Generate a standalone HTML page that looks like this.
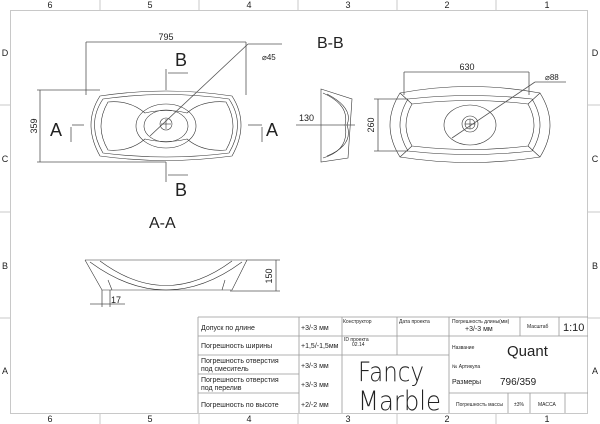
<!DOCTYPE html>
<html><head><meta charset="utf-8"><style>
html,body{margin:0;padding:0;background:#fff;}
svg{display:block;font-family:"Liberation Sans",sans-serif;}
.g{stroke:#c8c8c8;fill:none;stroke-width:1}
.l{stroke:#555;fill:none;stroke-width:0.8}
.t{stroke:#333;fill:none;stroke-width:0.6}
.tb{stroke:#999;fill:none;stroke-width:0.8}
text{fill:#222}
.s{font-size:7px;fill:#333}
</style></head><body>
<svg width="600" height="424" viewBox="0 0 600 424" xmlns="http://www.w3.org/2000/svg">
<rect x="10.5" y="10.5" width="577" height="403" class="g"/>
<g class="g">
<line x1="100" y1="0" x2="100" y2="10"/><line x1="199" y1="0" x2="199" y2="10"/><line x1="298" y1="0" x2="298" y2="10"/><line x1="397" y1="0" x2="397" y2="10"/><line x1="496" y1="0" x2="496" y2="10"/>
<line x1="100" y1="414" x2="100" y2="424"/><line x1="199" y1="414" x2="199" y2="424"/><line x1="298" y1="414" x2="298" y2="424"/><line x1="397" y1="414" x2="397" y2="424"/><line x1="496" y1="414" x2="496" y2="424"/>
<line x1="0" y1="105" x2="10" y2="105"/><line x1="0" y1="212" x2="10" y2="212"/><line x1="0" y1="318" x2="10" y2="318"/>
<line x1="588" y1="105" x2="600" y2="105"/><line x1="588" y1="212" x2="600" y2="212"/><line x1="588" y1="318" x2="600" y2="318"/>
</g>
<g font-size="9" text-anchor="middle">
<text x="50" y="8">6</text><text x="150" y="8">5</text><text x="249" y="8">4</text><text x="348" y="8">3</text><text x="447" y="8">2</text><text x="547" y="8">1</text>
<text x="50" y="422">6</text><text x="150" y="422">5</text><text x="249" y="422">4</text><text x="348" y="422">3</text><text x="447" y="422">2</text><text x="547" y="422">1</text>
<text x="5" y="56">D</text><text x="5" y="162">C</text><text x="5" y="269">B</text><text x="5" y="374">A</text>
<text x="595" y="56">D</text><text x="595" y="162">C</text><text x="595" y="269">B</text><text x="595" y="374">A</text>
</g>

<g class="t">
<path d="M100,96 Q166,86 232,96 Q250,124 232,156 Q166,165 100,156 Q82,124 100,96Z"/>
<path d="M103,99 Q166,90 229,99 Q246,124 229,153 Q166,161 103,153 Q86,124 103,99Z"/>
<path d="M108,102 Q130,100 145,113 Q166,108 187,113 Q202,100 226,102 Q240,126 226,150 Q202,152 187,139 Q166,144 145,139 Q130,152 108,150 Q94,126 108,102Z"/>
<ellipse cx="166" cy="126" rx="30" ry="22"/>
<ellipse cx="166" cy="126" rx="22" ry="16"/>
<circle cx="166" cy="124" r="6"/>
<line x1="161" y1="124" x2="171" y2="124"/><line x1="166" y1="119" x2="166" y2="129"/>
</g>
<g class="l">
<line x1="86" y1="42" x2="86" y2="95"/><line x1="246" y1="42" x2="246" y2="95"/>
<line x1="86" y1="42" x2="246" y2="42"/>
<line x1="37" y1="90" x2="100" y2="90"/><line x1="37" y1="162" x2="166" y2="162"/>
<line x1="40" y1="90" x2="40" y2="162"/>
<line x1="150" y1="136" x2="248" y2="44"/><line x1="248" y1="44" x2="282" y2="44"/>
<line x1="166" y1="69" x2="166" y2="90"/><line x1="166" y1="162" x2="166" y2="182"/>
<line x1="168" y1="73" x2="188" y2="73"/><line x1="168" y1="175" x2="188" y2="175"/>
<line x1="72" y1="125" x2="84" y2="125"/><line x1="248" y1="125" x2="262" y2="125"/>
<line x1="71" y1="127" x2="71" y2="142"/><line x1="262" y1="127" x2="262" y2="142"/>
</g>
<text x="166" y="40" font-size="9" text-anchor="middle">795</text>
<text x="262" y="60" font-size="8">⌀45</text>
<text x="37" y="126" font-size="9" text-anchor="middle" transform="rotate(-90 37 126)">359</text>
<text x="175" y="66" font-size="18">B</text><text x="175" y="196" font-size="18">B</text>
<text x="50" y="136" font-size="18">A</text><text x="266" y="136" font-size="18">A</text>
<text x="149" y="228" font-size="16">A-A</text>
<text x="317" y="48" font-size="16">B-B</text>

<g class="t">
<path d="M321,89 L352,99 L348,158 L321,162 Z"/>
<path d="M323,93 Q350,105 345,125 Q350,150 323,158"/>
<path d="M327,94 Q354,108 347,125 Q354,145 327,156"/>
</g>
<g class="l"><line x1="296" y1="125" x2="355" y2="125"/></g>
<text x="299" y="121" font-size="9">130</text>

<g class="t">
<path d="M400,93 Q470,80 540,93 Q560,125 540,157 Q470,168 400,157 Q380,125 400,93Z"/>
<path d="M408,99 Q470,92 532,99 Q548,125 532,151 Q470,158 408,151 Q392,125 408,99Z"/>
<path d="M412,104 Q470,97 528,104 Q540,125 528,146 Q470,153 412,146 Q400,125 412,104Z"/>
<ellipse cx="470" cy="125" rx="26" ry="20"/>
<circle cx="470" cy="124" r="8"/><circle cx="470" cy="124" r="5"/>
<line x1="465" y1="124" x2="475" y2="124"/><line x1="470" y1="119" x2="470" y2="129"/>
<line x1="400" y1="93" x2="412" y2="104"/><line x1="540" y1="93" x2="528" y2="104"/>
<line x1="400" y1="157" x2="412" y2="146"/><line x1="540" y1="157" x2="528" y2="146"/>
</g>
<g class="l">
<line x1="404" y1="72" x2="404" y2="95"/><line x1="529" y1="72" x2="529" y2="95"/>
<line x1="404" y1="72" x2="529" y2="72"/>
<line x1="374" y1="99" x2="408" y2="99"/><line x1="374" y1="151" x2="408" y2="151"/>
<line x1="378" y1="99" x2="378" y2="151"/>
<line x1="452" y1="138" x2="535" y2="82"/><line x1="535" y1="82" x2="566" y2="82"/>
</g>
<text x="467" y="70" font-size="9" text-anchor="middle">630</text>
<text x="545" y="80" font-size="8">⌀88</text>
<text x="374" y="125" font-size="9" text-anchor="middle" transform="rotate(-90 374 125)">260</text>

<g class="t">
<line x1="85" y1="260" x2="247" y2="260"/>
<path d="M85,260 L102,290 L110,290"/>
<path d="M247,260 L232,290 L225,290"/>
<path d="M100,261 Q166,310 232,261"/>
<path d="M90,262 Q166,318 242,262"/>
<line x1="110" y1="290" x2="225" y2="290"/>
<path d="M108,280 L112,290 M225,280 L222,290"/>
</g>
<g class="l">
<line x1="247" y1="260" x2="280" y2="260"/><line x1="230" y1="291" x2="280" y2="291"/>
<line x1="276" y1="260" x2="276" y2="291"/>
<line x1="102" y1="290" x2="102" y2="307"/><line x1="110" y1="290" x2="110" y2="307"/>
<line x1="90" y1="304" x2="125" y2="304"/>
</g>
<text x="272" y="276" font-size="9" text-anchor="middle" transform="rotate(-90 272 276)">150</text>
<text x="111" y="303" font-size="9">17</text>

<g class="tb">
<line x1="198" y1="317" x2="588" y2="317"/>
<line x1="198" y1="317" x2="198" y2="413"/>
<line x1="299" y1="317" x2="299" y2="413"/>
<line x1="342" y1="317" x2="342" y2="413"/>
<line x1="397" y1="317" x2="397" y2="355"/>
<line x1="449" y1="317" x2="449" y2="413"/>
<line x1="520" y1="317" x2="520" y2="336"/>
<line x1="559" y1="317" x2="559" y2="336"/>
<line x1="198" y1="336" x2="299" y2="336"/><line x1="198" y1="355" x2="449" y2="355"/>
<line x1="198" y1="374" x2="299" y2="374"/><line x1="198" y1="393" x2="299" y2="393"/>
<line x1="299" y1="336" x2="449" y2="336"/>
<line x1="449" y1="336" x2="588" y2="336"/>
<line x1="449" y1="393" x2="588" y2="393"/>
<line x1="508" y1="393" x2="508" y2="413"/><line x1="530" y1="393" x2="530" y2="413"/><line x1="565" y1="393" x2="565" y2="413"/>
</g>
<g class="s">
<text x="201" y="330">Допуск по длине</text>
<text x="201" y="348">Погрешность ширины</text>
<text x="201" y="363">Погрешность отверстия</text><text x="201" y="371">под смеситель</text>
<text x="201" y="382">Погрешность отверстия</text><text x="201" y="390">под перелив</text>
<text x="201" y="407">Погрешность по высоте</text>
<text x="301" y="330">+3/-3 мм</text><text x="301" y="348">+1,5/-1,5мм</text>
<text x="301" y="368">+3/-3 мм</text><text x="301" y="387">+3/-3 мм</text><text x="301" y="407">+2/-2 мм</text>
<text x="452" y="384">Размеры</text>
</g>
<g font-size="5" fill="#333">
<text x="343" y="323">Конструктор</text><text x="399" y="323">Дата проекта</text>
<text x="344" y="341">ID проекта</text><text x="352" y="346">02.14</text>
<text x="452" y="323">Погрешность длины(мм)</text><text x="527" y="328">Масштаб</text>
<text x="452" y="349">Название</text><text x="452" y="368">№ Артикула</text>
<text x="456" y="406">Погрешность массы</text><text x="514" y="406">±3%</text><text x="538" y="406">МАССА</text>
</g>
<text x="465" y="331" font-size="7" fill="#333">+3/-3 мм</text>
<text x="563" y="331" font-size="11">1:10</text>
<text x="507" y="356" font-size="15">Quant</text>
<text x="500" y="385" font-size="10">796/359</text>
<text x="358" y="381" font-size="27" font-family="DejaVu Sans, sans-serif" font-weight="300" textLength="66" lengthAdjust="spacingAndGlyphs">Fancy</text>
<text x="358" y="410" font-size="27" font-family="DejaVu Sans, sans-serif" font-weight="300" textLength="83" lengthAdjust="spacingAndGlyphs">Marble</text>
</svg>
</body></html>
